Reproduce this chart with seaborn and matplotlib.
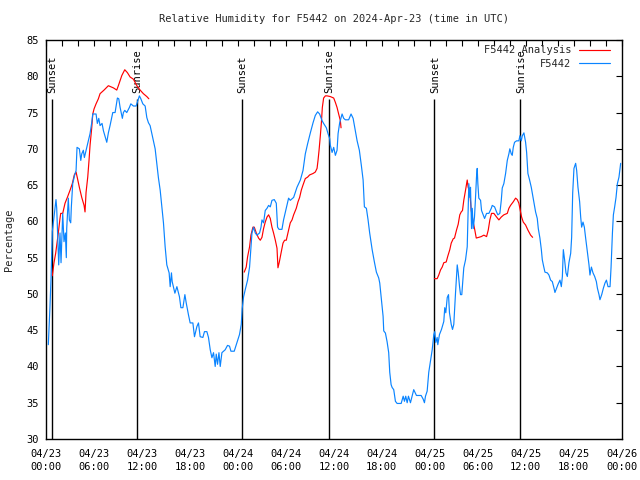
import numpy as np
import pandas as pd
import matplotlib
matplotlib.use("Agg")
import matplotlib.pyplot as plt
import seaborn as sns
from matplotlib.ticker import MultipleLocator

# ---------------- data ----------------
title = "Relative Humidity for F5442 on 2024-Apr-23 (time in UTC)"
y_label = "Percentage"
obs_name = "F5442"
ana_name = "F5442 Analysis"

# hours since 04/23 00:00 UTC
obs_hours = [0.29, 0.50, 0.63, 0.79, 1.25, 1.34, 1.59, 1.75, 1.88, 2.09, 2.25, 2.42, 2.54, 2.59,
             2.79, 2.92, 3.09, 3.17, 3.34, 3.59, 3.76, 3.88, 4.17, 4.35, 4.47, 4.67, 4.80, 5.10,
             5.51, 5.72, 5.85, 6.26, 6.42, 6.60, 6.76, 7.01, 7.18, 7.60, 7.80, 8.01, 8.35, 8.64,
             8.93, 9.10, 9.27, 9.55, 9.68, 9.85, 10.10, 10.43, 10.61, 10.93, 11.27, 11.48, 11.68,
             11.86, 12.11, 12.40, 12.61, 12.81, 13.02, 13.44, 13.65, 13.86, 14.06, 14.28, 14.49,
             14.69, 14.90, 15.11, 15.40, 15.53, 15.69, 15.78, 16.12, 16.37, 16.69, 16.87, 17.12,
             17.37, 17.53, 17.82, 18.03, 18.37, 18.57, 18.87, 19.07, 19.28, 19.62, 19.82, 20.12,
             20.32, 20.54, 20.75, 20.95, 21.16, 21.29, 21.45, 21.63, 21.79, 22.00, 22.41, 22.70,
             22.95, 23.13, 23.54, 23.88, 24.20, 24.42, 24.54, 24.71, 24.92, 25.21, 25.46, 25.76,
             25.96, 26.17, 26.38, 26.71, 26.89, 27.01, 27.21, 27.42, 27.64, 27.84, 28.05, 28.26,
             28.55, 28.80, 28.96, 29.14, 29.51, 29.71, 30.05, 30.34, 30.55, 30.97, 31.39, 31.81,
             32.14, 32.43, 32.72, 33.06, 33.40, 33.68, 33.97, 34.22, 34.52, 34.72, 35.06, 35.27,
             35.48, 35.56, 35.78, 35.98, 36.19, 36.40, 36.53, 36.73, 37.03, 37.23, 37.44, 37.85,
             38.15, 38.41, 38.69, 38.91, 39.19, 39.44, 39.66, 39.82, 40.07, 40.28, 40.48, 40.79,
             41.07, 41.32, 41.61, 41.74, 41.91, 42.16, 42.24, 42.45, 42.66, 42.86, 42.99, 43.16,
             43.29, 43.49, 43.70, 43.91, 44.42, 44.67, 44.83, 44.99, 45.17, 45.33, 45.58, 45.79,
             45.99, 46.33, 46.92, 47.17, 47.33, 47.46, 47.67, 47.87, 48.08, 48.30, 48.50, 48.62,
             48.75, 48.92, 49.00, 49.21, 49.46, 49.75, 49.87, 50.00, 50.18, 50.34, 50.46, 50.68,
             50.84, 51.00, 51.22, 51.43, 51.55, 51.72, 51.84, 52.00, 52.13, 52.25, 52.47, 52.68,
             52.80, 52.88, 53.01, 53.09, 53.22, 53.31, 53.43, 53.59, 53.72, 53.84, 53.93, 54.01,
             54.13, 54.35, 54.47, 54.68, 54.85, 55.10, 55.39, 55.69, 55.81, 56.10, 56.35, 56.51,
             56.76, 56.94, 57.06, 57.26, 57.48, 57.69, 57.89, 58.01, 58.19, 58.31, 58.44, 58.60,
             58.85, 59.14, 59.27, 59.44, 59.57, 59.77, 59.98, 60.11, 60.27, 60.48, 60.69, 60.82,
             61.02, 61.23, 61.44, 61.57, 61.77, 61.95, 62.07, 62.20, 62.40, 62.70, 62.90, 63.11,
             63.32, 63.53, 63.65, 63.86, 64.03, 64.28, 64.45, 64.58, 64.70, 64.86, 65.03, 65.20,
             65.40, 65.62, 65.74, 65.87, 66.03, 66.24, 66.37, 66.53, 66.74, 66.87, 66.99, 67.16,
             67.33, 67.49, 67.71, 67.91, 68.03, 68.21, 68.41, 68.62, 68.83, 68.96, 69.16, 69.28,
             69.50, 69.71, 69.91, 70.09, 70.29, 70.54, 70.67, 70.84, 70.96, 71.12, 71.29, 71.46,
             71.66, 71.87]
obs_values = [43.0, 48.3, 52.2, 58.6, 63.0, 61.8, 54.0, 58.4, 54.3, 61.1, 57.2, 58.4, 55.0, 59.0,
              63.2, 60.2, 59.8, 62.0, 65.2, 66.4, 67.0, 70.2, 70.0, 68.4, 69.3, 69.8, 68.8, 70.2,
              72.1, 73.6, 74.8, 74.8, 73.5, 74.2, 73.2, 73.5, 72.5, 70.9, 72.2, 73.2, 75.0, 75.0,
              77.0, 76.9, 75.7, 74.2, 75.0, 75.3, 75.0, 75.7, 76.2, 75.9, 75.9, 76.6, 77.3,
              76.9, 76.2, 75.9, 74.3, 73.6, 73.2, 71.1, 70.0, 68.0, 66.0, 64.3, 62.0,
              59.8, 56.5, 54.0, 52.9, 51.0, 52.9, 51.7, 50.1, 51.0, 49.6, 48.1, 48.1,
              49.9, 48.8, 47.1, 46.0, 46.0, 44.1, 45.5, 46.0, 44.1, 44.0, 44.8, 44.8,
              44.0, 42.3, 41.2, 41.9, 40.0, 41.7, 40.3, 41.9, 40.0, 41.9, 42.3, 42.9,
              42.8, 42.1, 42.1, 43.3, 44.4, 45.8, 48.0, 49.6, 50.6, 51.9, 53.7, 58.4,
              59.2, 58.4, 58.1, 58.4, 59.2, 60.2, 59.8, 61.5, 61.8, 62.2, 62.0, 62.9,
              63.0, 62.5, 59.2, 58.9, 58.9, 60.2, 61.8, 63.2, 62.9, 63.3, 64.7, 65.7,
              67.0, 69.3, 70.7, 72.2, 73.6, 74.6, 75.1, 74.8, 73.9, 73.5, 72.9, 72.1,
              71.4, 70.5, 69.5, 70.2, 69.1, 69.8, 72.1, 73.6, 74.8, 74.2, 74.0, 74.0,
              74.8, 74.2, 72.5, 71.1, 69.8, 67.7, 65.7, 62.0, 61.8, 60.2, 58.4, 56.1,
              54.4, 53.0, 52.2, 51.5, 49.6, 46.9, 44.9, 44.6, 43.4, 41.9, 39.2, 37.5,
              37.1, 36.8, 35.2, 34.9, 34.9, 35.9, 35.2, 35.9, 35.0, 35.9, 35.0, 35.9,
              36.8, 36.0, 36.0, 35.5, 35.0, 35.9, 36.6, 39.2, 40.7, 42.3, 44.4, 44.8,
              43.3, 44.0, 43.0, 44.4, 45.1, 46.2, 48.1, 47.4, 49.5, 49.9, 47.4, 45.8,
              45.1, 45.8, 50.2, 54.0, 53.0, 51.0, 49.9, 49.9, 51.9, 53.6, 54.7, 56.5,
              61.5, 65.2, 63.3, 64.7, 59.0, 61.8, 59.0, 60.6, 63.3, 66.1, 67.3, 65.2,
              63.2, 62.9, 61.5, 60.9, 60.4, 61.1, 61.1, 61.8, 62.2, 62.0, 61.3, 60.9,
              61.1, 62.9, 64.6, 65.2, 66.6, 68.4, 69.3, 70.0, 69.3, 69.1, 70.2, 70.9,
              71.1, 71.1, 71.8, 71.1, 71.8, 72.2, 70.9, 69.5, 66.6, 65.7, 64.7, 63.9,
              62.7, 61.3, 60.4, 59.0, 57.7, 56.1, 54.7, 54.0, 53.0, 52.9, 52.6, 51.9,
              51.7, 50.8, 50.2, 50.8, 51.3, 51.9, 51.0, 52.4, 56.1, 54.7, 52.9, 52.4,
              54.3, 55.6, 57.8, 63.9, 67.3, 68.0, 67.0, 64.7, 62.7, 60.6, 59.2, 59.9,
              59.2, 57.7, 55.8, 54.0, 52.6, 53.7, 52.9, 52.4, 51.7, 50.8, 49.9, 49.2,
              49.9, 50.8, 51.5, 51.9, 51.0, 51.0, 53.7, 58.4, 60.9, 62.0, 63.3, 65.2,
              66.1, 68.0]

# analysis: one run per night (sunset to just after sunrise)
ana_hours = [
    [0.79, 1.00, 1.21, 1.54, 1.75, 1.84, 2.09, 2.38, 2.67, 3.01, 3.29, 3.54, 3.76, 3.92, 4.17,
     4.47, 4.76, 4.88, 5.01, 5.22, 5.38, 5.51, 5.72, 5.85, 6.01, 6.26, 6.55, 6.76, 7.26, 7.80,
     8.43, 8.85, 9.05, 9.48, 9.85, 10.18, 10.52, 10.93, 11.36, 11.77, 12.18, 12.61, 12.86],
    [24.79, 25.04, 25.21, 25.46, 25.63, 25.88, 26.05, 26.30, 26.58, 26.80, 27.01, 27.21, 27.42,
     27.64, 27.84, 28.05, 28.26, 28.46, 28.68, 28.89, 29.01, 29.18, 29.39, 29.64, 29.84, 30.05,
     30.34, 30.55, 30.77, 30.97, 31.30, 31.52, 31.72, 31.93, 32.14, 32.43, 32.72, 32.97, 33.40,
     33.68, 33.90, 34.02, 34.15, 34.31, 34.44, 34.56, 34.72, 34.94, 35.15, 35.56, 35.98, 36.19,
     36.40, 36.60, 36.81, 36.90],
    [48.58, 48.92, 49.12, 49.34, 49.55, 49.75, 50.05, 50.25, 50.50, 50.68, 50.93, 51.09, 51.34,
     51.55, 51.75, 51.93, 52.09, 52.25, 52.47, 52.68, 52.80, 53.01, 53.18, 53.43, 53.63, 53.81,
     54.13, 54.43, 54.76, 55.10, 55.31, 55.51, 55.72, 56.01, 56.35, 56.64, 56.94, 57.26, 57.69,
     57.89, 58.10, 58.44, 58.73, 58.94, 59.14, 59.35, 59.48, 59.69, 59.98, 60.27, 60.61, 60.86],
]
ana_values = [
    [52.5, 54.3, 55.6, 58.4, 60.4, 61.1, 61.1, 62.5, 63.3, 64.3, 65.2, 66.4, 66.8, 66.0, 64.7,
     63.3, 62.2, 61.3, 64.0, 66.1, 68.4, 70.5, 72.9, 74.8, 75.5, 76.2, 76.9, 77.6, 78.1, 78.7,
     78.4, 78.1, 78.7, 80.1, 80.9, 80.5, 79.9, 79.6, 78.7, 78.1, 77.6, 77.2, 76.9],
    [53.0, 53.7, 55.1, 56.5, 58.1, 59.2, 59.2, 58.4, 57.7, 57.4, 57.8, 59.0, 59.9,
     60.6, 60.9, 60.4, 59.2, 58.4, 57.4, 56.3, 53.6, 54.4, 55.6, 57.0, 57.4, 57.4,
     58.8, 59.8, 60.2, 60.9, 61.8, 62.7, 63.3, 64.3, 65.0, 65.9, 66.1, 66.4, 66.6,
     66.8, 67.3, 68.4, 69.8, 71.8, 73.6, 75.7, 77.0, 77.3, 77.3, 77.2, 77.0, 76.4,
     75.7, 74.8, 73.9, 72.9],
    [52.1, 52.1, 52.6, 53.3, 53.7, 54.3, 54.4, 55.2, 56.1, 57.0, 57.6, 57.7, 58.8,
     59.6, 60.9, 61.3, 61.5, 62.9, 64.3, 65.7, 64.7, 63.9, 61.5, 59.9, 58.8, 57.7,
     57.8, 57.9, 58.1, 57.9, 58.8, 60.2, 61.1, 61.1, 60.6, 60.2, 60.6, 60.9, 61.1,
     61.8, 62.2, 62.7, 63.2, 63.0, 62.5, 61.3, 60.6, 59.9, 59.5, 58.8, 58.1, 57.8],
]

sun_hours = [0.71, 11.42, 24.55, 35.43, 48.57, 59.33]
sun_labels = ["Sunset", "Sunrise", "Sunset", "Sunrise", "Sunset", "Sunrise"]

xtick_hours = [0, 6, 12, 18, 24, 30, 36, 42, 48, 54, 60, 66, 72]
xtick_labels = ["04/23\n00:00", "04/23\n06:00", "04/23\n12:00", "04/23\n18:00",
                "04/24\n00:00", "04/24\n06:00", "04/24\n12:00", "04/24\n18:00",
                "04/25\n00:00", "04/25\n06:00", "04/25\n12:00", "04/25\n18:00",
                "04/26\n00:00"]
yticks = [30, 35, 40, 45, 50, 55, 60, 65, 70, 75, 80, 85]

# ---------------- tables ----------------
obs_df = pd.DataFrame({"hour": obs_hours, "value": obs_values})
ana_df = pd.concat(
    [pd.DataFrame({"hour": h, "value": v, "seg": i})
     for i, (h, v) in enumerate(zip(ana_hours, ana_values))],
    ignore_index=True)

# ---------------- style ----------------
sns.set_style("white")
FONT = "DejaVu Sans Mono"
plt.rcParams["font.family"] = [FONT]
plt.rcParams["font.size"] = 7.5

fig = plt.figure(figsize=(6.4, 4.8), dpi=100)
ax = fig.add_axes([46 / 640, 1 - 439 / 480, (621.7 - 46) / 640, (439 - 40) / 480])

RED = "#ff0000"
BLUE = "#0a84ff"

# sunrise / sunset markers
ax.vlines(sun_hours, 30, 76.9, color="black", lw=1.0, zorder=1.5)
for h, lab in zip(sun_hours, sun_labels):
    ax.text(h + 0.05, 77.7, lab, rotation=90, ha="center", va="bottom",
            fontsize=7.5, color="black")

sns.lineplot(data=ana_df, x="hour", y="value", units="seg", estimator=None,
             color=RED, lw=0.85, ax=ax, legend=False, sort=False, zorder=3)
sns.lineplot(data=obs_df, x="hour", y="value", estimator=None,
             color=BLUE, lw=0.85, ax=ax, legend=False, sort=False, zorder=3)

ax.set_xlim(0, 72)
ax.set_ylim(30, 85)
ax.set_xticks(xtick_hours)
ax.set_xticklabels(xtick_labels, linespacing=1.45)
ax.xaxis.set_minor_locator(MultipleLocator(2))
ax.set_yticks(yticks)
ax.tick_params(axis="both", which="both", direction="in", length=4, width=0.8,
               top=True, right=True, colors="black", labelsize=7.5)
ax.tick_params(axis="x", which="major", pad=7)
ax.tick_params(axis="y", which="major", pad=5)
ax.set_xlabel("")
ax.set_ylabel(y_label, fontsize=7.5, labelpad=9)
for s in ax.spines.values():
    s.set_color("black")
    s.set_linewidth(1.0)

# legend from the drawn series (one entry each)
red_line = ax.lines[0]
blue_line = ax.lines[len(ana_hours)]
leg = ax.legend([red_line, blue_line], [ana_name, obs_name],
                loc="upper right", bbox_to_anchor=(0.992, 1.005), frameon=False,
                markerfirst=False, handlelength=3.0, handletextpad=0.7,
                labelspacing=0.35, fontsize=7.5, borderaxespad=0.3)

fig.text((46 + 621.7) / 2 / 640, 1 - 19 / 480, title, ha="center", va="center",
         fontsize=7.5)

fig.savefig("out.png", dpi=100)
